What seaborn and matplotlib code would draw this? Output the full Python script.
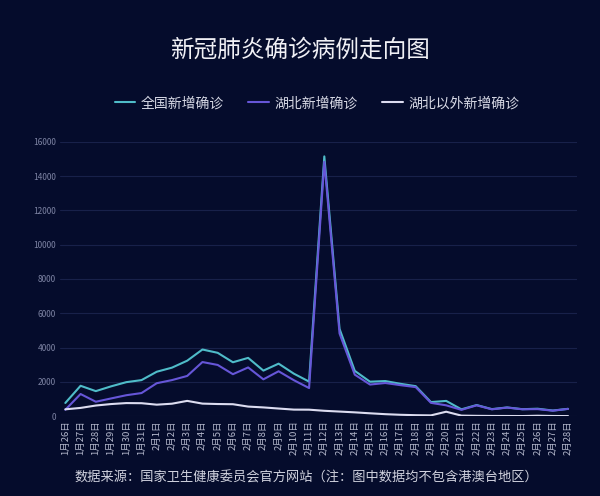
import matplotlib
matplotlib.use('Agg')
import matplotlib.pyplot as plt
import pandas as pd
import seaborn as sns

# data: daily new confirmed cases, 1/26 - 2/28
dates = ['1月26日', '1月27日', '1月28日', '1月29日', '1月30日', '1月31日',
         '2月1日', '2月2日', '2月3日', '2月4日', '2月5日', '2月6日', '2月7日',
         '2月8日', '2月9日', '2月10日', '2月11日', '2月12日', '2月13日',
         '2月14日', '2月15日', '2月16日', '2月17日', '2月18日', '2月19日',
         '2月20日', '2月21日', '2月22日', '2月23日', '2月24日', '2月25日',
         '2月26日', '2月27日', '2月28日']
national = [769, 1771, 1459, 1737, 1982, 2102, 2590, 2829, 3235, 3887, 3694,
            3143, 3399, 2656, 3062, 2478, 2015, 15152, 5090, 2641, 2009, 2048,
            1886, 1749, 820, 889, 397, 648, 409, 508, 406, 433, 327, 427]
hubei = [371, 1291, 840, 1032, 1220, 1347, 1921, 2103, 2345, 3156, 2987,
         2447, 2841, 2147, 2618, 2097, 1638, 14840, 4823, 2420, 1843, 1933,
         1807, 1693, 775, 631, 366, 630, 398, 499, 401, 409, 318, 423]
outside = [398, 480, 619, 705, 762, 755, 669, 726, 890, 731, 707, 696, 558,
           509, 444, 381, 377, 312, 267, 221, 166, 115, 79, 56, 45, 258, 31,
           18, 11, 9, 5, 24, 9, 4]
series_names = ['全国新增确诊', '湖北新增确诊', '湖北以外新增确诊']
colors = ['#4fbcc9', '#6656d8', '#dcdcf0']

BG = '#050c2c'

sns.set_style('dark')
plt.rcParams['font.family'] = ['Noto Sans CJK SC', 'DejaVu Sans']

rows = []
for name, vals in zip(series_names, [national, hubei, outside]):
    for i, v in enumerate(vals):
        rows.append({'idx': i, 'value': v, 'series': name})
df = pd.DataFrame(rows)

fig = plt.figure(figsize=(6, 4.96), dpi=100, facecolor=BG)
ax = fig.add_axes([0.1, 0.161, 0.862, 0.553])
ax.set_facecolor(BG)

sns.lineplot(data=df, x='idx', y='value', hue='series',
             palette=dict(zip(series_names, colors)), linewidth=1.5, ax=ax)

ax.set_xlim(-0.35, 33.6)
ax.set_ylim(0, 16000)
ax.set_yticks(range(0, 16001, 2000))
ax.set_yticklabels([str(v) for v in range(0, 16001, 2000)],
                   fontsize=6, color='#7d83a3')
ax.set_xticks(range(len(dates)))
ax.set_xticklabels(dates, rotation=90, fontsize=6.8, color='#b4b8cc')
ax.tick_params(axis='both', length=0, pad=3)
ax.grid(axis='y', color='#18214a', linewidth=0.8)
ax.grid(axis='x', visible=False)
for s in ax.spines.values():
    s.set_visible(False)
ax.set_xlabel('')
ax.set_ylabel('')

handles, labels = ax.get_legend_handles_labels()
ax.legend_.remove()
leg = fig.legend(handles, labels, loc='center', bbox_to_anchor=(0.528, 0.792),
                 ncol=3, frameon=False, fontsize=10, handlelength=1.45,
                 columnspacing=1.8, handletextpad=0.4)
for t in leg.get_texts():
    t.set_color('#d8dae6')

fig.text(0.5, 0.899, '新冠肺炎确诊病例走向图', ha='center', va='center',
         fontsize=17, color='#f0f0f5', fontweight='medium')
fig.text(0.51, 0.036, '数据来源：国家卫生健康委员会官方网站（注：图中数据均不包含港澳台地区）',
         ha='center', va='center', fontsize=9.5, color='#d0d2de')

fig.savefig('out.png', dpi=100, facecolor=BG)
